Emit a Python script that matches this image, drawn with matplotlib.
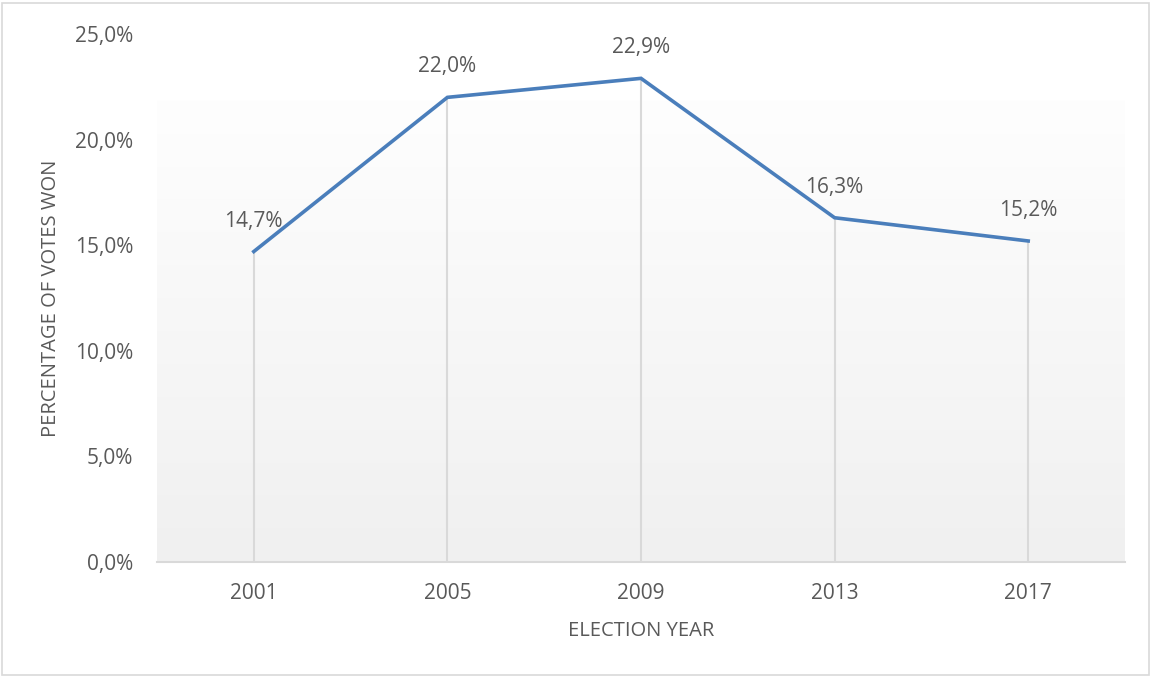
import matplotlib
matplotlib.use("Agg")
import matplotlib.pyplot as plt
import numpy as np
from matplotlib.patches import Rectangle

years = ["2001", "2005", "2009", "2013", "2017"]
values = [14.7, 22.0, 22.9, 16.3, 15.2]
value_labels = ["14,7%", "22,0%", "22,9%", "16,3%", "15,2%"]
yticks = [0, 5, 10, 15, 20, 25]
ytick_labels = ["0,0%", "5,0%", "10,0%", "15,0%", "20,0%", "25,0%"]

plt.rcParams['font.family'] = ['Open Sans', 'DejaVu Sans']
txt = '#595959'

fig = plt.figure(figsize=(11.52, 6.77), dpi=100)
fig.patches.append(Rectangle((2/1152, 2/677), 1147/1152, 672/677, transform=fig.transFigure,
                             fill=False, edgecolor='#d9d9d9', linewidth=1.2))
ax = fig.add_axes([157/1152, (677-562)/677, 968/1152, (562-34)/677])

x = np.arange(len(years)) + 0.5
ax.set_xlim(0, 5)
ax.set_ylim(0, 25)

# gradient background (plot area fill starts below the top of the value axis)
grad_top = (562 - 100) / (562 - 34) * 25
grad = np.linspace(0, 1, 256).reshape(-1, 1)
top = np.array([0xfe, 0xfe, 0xfe]) / 255
bot = np.array([0xf0, 0xf0, 0xf0]) / 255
img = top + (bot - top) * grad[..., None]
img = img.reshape(256, 1, 3)
ax.imshow(img, extent=[0, 5, 0, grad_top], aspect='auto', origin='upper', zorder=0)

ax.vlines(x, 0, values, colors='#d9d9d9', linewidth=1.5, zorder=1)
ax.plot(x, values, color='#4a7ebb', linewidth=2.6, zorder=3, solid_joinstyle='miter')

for xi, v, lab in zip(x, values, value_labels):
    ax.annotate(lab, (xi, v), xytext=(0, 18), textcoords='offset points',
                ha='center', va='baseline', fontsize=15, color=txt)

for s in ['top', 'right', 'left']:
    ax.spines[s].set_visible(False)
ax.spines['bottom'].set_color('#d9d9d9')
ax.spines['bottom'].set_linewidth(1.5)

ax.set_xticks(x)
ax.set_xticklabels(years)
ax.set_yticks(yticks)
ax.set_yticklabels(ytick_labels)
ax.tick_params(axis='both', length=0, labelsize=15, labelcolor=txt)
ax.tick_params(axis='x', pad=15)
ax.tick_params(axis='y', pad=17)

ax.set_xlabel("ELECTION YEAR", fontsize=14.5, color=txt, labelpad=12)
ax.set_ylabel("PERCENTAGE OF VOTES WON", fontsize=14.5, color=txt, labelpad=10)

fig.savefig("out.png", dpi=100)
